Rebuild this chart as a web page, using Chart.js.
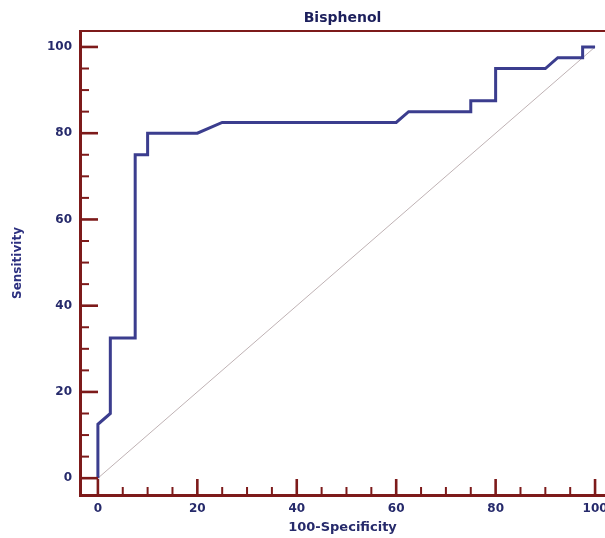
<!DOCTYPE html>
<html>
<head>
<meta charset="utf-8">
<title>Bisphenol ROC</title>
<script src="https://cdn.jsdelivr.net/npm/chart.js@4.4.1/dist/chart.umd.min.js"></script>
<style>
  body { margin: 0; background: #fff; }
  #wrap { width: 605px; height: 538px; }
</style>
</head>
<body>
<div id="wrap"><canvas id="roc"></canvas></div>
<script>
// ROC curve (both axes in %)
let fpr = [0, 0, 2.5, 2.5, 7.5, 7.5, 10, 10, 20, 25, 60, 62.5, 75, 75, 80, 80, 90, 92.5, 97.5, 97.5, 100];
let tpr = [0, 12.5, 15, 32.5, 32.5, 75, 75, 80, 80, 82.5, 82.5, 85, 85, 87.5, 87.5, 95, 95, 97.5, 97.5, 100, 100];
// reference diagonal
let diagX = [0, 100];
let diagY = [0, 100];
let majorTicks = [0, 20, 40, 60, 80, 100];
let minorTicks = [5, 10, 15, 25, 30, 35, 45, 50, 55, 65, 70, 75, 85, 90, 95];
let titleText = "Bisphenol";
let xTitle = "100-Specificity";
let yTitle = "Sensitivity";

const AXIS = "#7d1a1a";
const TXT = "#262a6b";
const FONT = "'DejaVu Sans', sans-serif";

function pts(xs, ys){
    return xs.map((v, i) => ({x: v, y: ys[i]}));
}

// ticks point inward on this chart, so draw them by hand from the scales
const tickMarks = {
    id: "tickMarks",
    afterDraw(chart){
        const {ctx, chartArea, scales: {x, y}} = chart;
        ctx.save();
        ctx.strokeStyle = AXIS;
        ctx.lineWidth = 2;
        ctx.beginPath();
        ctx.moveTo(chartArea.left, chartArea.top);
        ctx.lineTo(chartArea.right, chartArea.top);
        ctx.stroke();

        [[majorTicks, 18, 16, 2.6], [minorTicks, 9, 8, 2]].forEach(([vals, ly, lx, w]) => {
            ctx.lineWidth = w;
            vals.forEach(v => {
                let py = y.getPixelForValue(v);
                ctx.beginPath();
                ctx.moveTo(chartArea.left, py);
                ctx.lineTo(chartArea.left + ly, py);
                ctx.stroke();
                let px = x.getPixelForValue(v);
                ctx.beginPath();
                ctx.moveTo(px, chartArea.bottom);
                ctx.lineTo(px, chartArea.bottom - lx);
                ctx.stroke();
            });
        });

        // title, centred on the plot area
        ctx.fillStyle = "#1c1f5c";
        ctx.font = "bold 14px " + FONT;
        ctx.textAlign = "center";
        ctx.textBaseline = "middle";
        ctx.fillText(titleText, (chartArea.left + chartArea.right) / 2, 18);
        ctx.restore();
    }
};

new Chart(document.getElementById("roc"), {
    type: "scatter",
    data: {
        datasets: [{
            label: "ROC",
            data: pts(fpr, tpr),
            showLine: true,
            borderColor: "#3b3d8e",
            borderWidth: 3,
            pointRadius: 0,
            tension: 0
        }, {
            label: "diagonal",
            data: pts(diagX, diagY),
            showLine: true,
            borderColor: "#bfb2b4",
            borderWidth: 1,
            pointRadius: 0
        }]
    },
    options: {
        responsive: true,
        maintainAspectRatio: false,
        animation: false,
        layout: { padding: { top: 31, left: 0, right: 0, bottom: 0 } },
        plugins: {
            legend: { display: false },
            tooltip: { enabled: false },
            title: { display: false }
        },
        scales: {
            x: {
                type: "linear",
                min: -3.6,
                max: 102,
                afterBuildTicks: s => { s.ticks = majorTicks.map(v => ({value: v})); },
                afterFit: s => { s.height = 43; s.paddingLeft = 0; s.paddingRight = 0; },
                grid: { display: false, drawTicks: false },
                border: { color: AXIS, width: 3 },
                ticks: {
                    color: TXT,
                    padding: 7,
                    maxRotation: 0,
                    font: { family: FONT, size: 12, weight: "bold" }
                },
                title: {
                    display: true,
                    text: xTitle,
                    color: TXT,
                    padding: { top: 0, bottom: 3 },
                    font: { family: FONT, size: 13, weight: "bold" }
                }
            },
            y: {
                type: "linear",
                min: -3.9,
                max: 103.7,
                afterBuildTicks: s => { s.ticks = majorTicks.map(v => ({value: v})); },
                afterFit: s => { s.width = 80; s.paddingTop = 0; s.paddingBottom = 0; },
                grid: { display: false, drawTicks: false },
                border: { color: AXIS, width: 3 },
                ticks: {
                    color: TXT,
                    padding: 8,
                    font: { family: FONT, size: 12, weight: "bold" }
                },
                title: {
                    display: true,
                    text: yTitle,
                    color: "#2d3180",
                    padding: { top: 11, bottom: 0 },
                    font: { family: FONT, size: 12, weight: "bold" }
                }
            }
        }
    },
    plugins: [tickMarks]
});
</script>
</body>
</html>
